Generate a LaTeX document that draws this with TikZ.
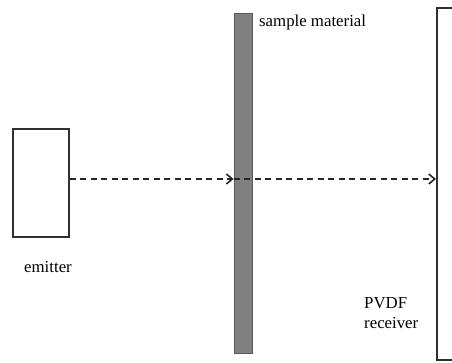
\documentclass[tikz,border=0pt]{standalone}
\usepackage{fontspec}
\setmainfont{Liberation Serif}
\usetikzlibrary{arrows.meta}
\definecolor{barfill}{HTML}{808080}
\definecolor{barline}{HTML}{5A5A5A}
\definecolor{boxline}{HTML}{303030}
\begin{document}
\begin{tikzpicture}[x=1pt,y=-1pt,
  lbl/.style={font=\fontsize{16.8}{19}\selectfont, inner sep=0pt, text=black},
  devbox/.style={draw=boxline, line width=1.5pt, fill=white, inner sep=0pt},
  beamline/.style={draw=black!85, line width=1.6pt, dash pattern=on 6pt off 4.5pt,
    -{Straight Barb[length=6pt,width=10pt,line width=1.6pt]}}]
\useasboundingbox (0,0) rectangle (452,362);
\node[devbox, minimum width=56pt, minimum height=108pt] (emitter) at (41,183) {};
\node[draw=barline, line width=0.8pt, fill=barfill, inner sep=0pt, minimum width=18pt, minimum height=340pt] (sample) at (243,183) {};
\node[devbox, line width=2pt, minimum width=50pt, minimum height=352pt] (receiver) at (462,184) {};
\coordinate (beam) at (0,179);
\draw[beamline] (emitter.east |- beam) -- (sample.west |- beam);
\draw[beamline] (sample.west |- beam) -- (receiver.west |- beam);
\node[lbl, anchor=west] (samplelbl) at (259,22) {sample material};
\node[lbl] (emitterlbl) at (48,267) {emitter};
\node[lbl, anchor=west] (pvdf) at (364,303) {PVDF};
\node[lbl, anchor=west] (recv) at (364,323) {receiver};
\end{tikzpicture}
\end{document}
